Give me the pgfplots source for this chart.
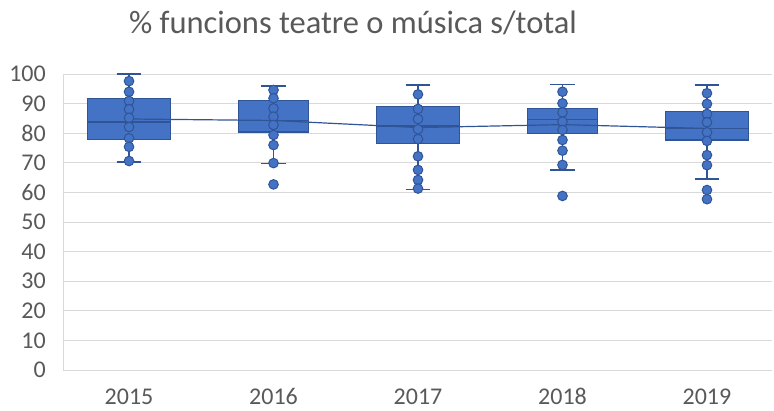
\documentclass[border=0pt]{standalone}
\usepackage{fontspec}
\setmainfont{Carlito}
\usepackage{pgfplots}
\pgfplotsset{compat=1.18}
\usepgfplotslibrary{statistics}

\definecolor{boxblue}{HTML}{4472C4}
\definecolor{boxedge}{HTML}{2F5597}
\definecolor{gridgray}{HTML}{D9D9D9}
\definecolor{textgray}{HTML}{595959}

\begin{document}
\begin{tikzpicture}
\useasboundingbox (-63pt,-40pt) rectangle (711pt,370pt);
\begin{axis}[
    scale only axis,
    width=709pt, height=296pt,
    xmin=-0.457, xmax=4.45,
    ymin=0, ymax=100,
    ytick={0,10,...,100},
    xtick={0,1,2,3,4},
    xticklabels={2015,2016,2017,2018,2019},
    major tick length=0pt,
    axis x line=bottom, axis y line=left,
    axis line style={draw=gridgray, line width=0.9pt, -},
    ymajorgrids,
    grid style={draw=gridgray, line width=0.9pt},
    tick label style={font=\fontsize{24}{28}\selectfont, text=textgray, inner sep=0pt},
    yticklabel style={anchor=east, xshift=-17pt},
    xticklabel style={anchor=base, yshift=-34pt},
    /pgf/number format/assume math mode=true,
    boxplot/draw direction=y,
    every boxplot/.style={fill=boxblue, draw=boxedge, line width=1.2pt, mark=none, solid},
    boxplot/every whisker/.style={line width=1.6pt},
    clip=false,
]
% boxes: lower whisker, Q1, median, Q3, upper whisker
\addplot+[boxplot prepared={lower whisker=70.3, lower quartile=78.0, median=83.8,
    upper quartile=91.6, upper whisker=100, draw position=0, box extend=0.574, whisker extend=0.17},
    fill=boxblue, draw=boxedge] coordinates {};
\addplot+[boxplot prepared={lower whisker=69.7, lower quartile=80.4, median=84.2,
    upper quartile=91.0, upper whisker=95.9, draw position=1, box extend=0.487, whisker extend=0.17},
    fill=boxblue, draw=boxedge] coordinates {};
\addplot+[boxplot prepared={lower whisker=61.0, lower quartile=76.5, median=82.4,
    upper quartile=89.0, upper whisker=96.3, draw position=2, box extend=0.577, whisker extend=0.17},
    fill=boxblue, draw=boxedge] coordinates {};
\addplot+[boxplot prepared={lower whisker=67.6, lower quartile=80.0, median=84.6,
    upper quartile=88.4, upper whisker=96.4, draw position=3, box extend=0.484, whisker extend=0.17},
    fill=boxblue, draw=boxedge] coordinates {};
\addplot+[boxplot prepared={lower whisker=64.6, lower quartile=77.7, median=81.6,
    upper quartile=87.3, upper whisker=96.3, draw position=4, box extend=0.574, whisker extend=0.17},
    fill=boxblue, draw=boxedge] coordinates {};
% mean line
\addplot[draw=boxedge, line width=1.2pt, no marks] coordinates {
    (0,84.8) (1,84.3) (2,81.9) (3,82.9) (4,81.6)
};
% points
\addplot[only marks, mark=*, mark size=4.8pt,
    mark options={fill=boxblue, draw=boxedge, line width=1pt}] coordinates {
    (0,97.6) (0,94.0) (0,90.9) (0,88.1) (0,85.2) (0,82.1) (0,78.3) (0,75.4) (0,70.6)
    (1,94.6) (1,91.8) (1,88.4) (1,85.6) (1,82.8) (1,79.4) (1,76.0) (1,69.9) (1,62.7)
    (2,93.1) (2,88.2) (2,84.8) (2,81.3) (2,78.0) (2,72.2) (2,67.6) (2,64.2) (2,61.3)
    (3,94.0) (3,90.1) (3,87.0) (3,83.9) (3,81.1) (3,77.7) (3,74.1) (3,69.3) (3,58.8)
    (4,93.5) (4,89.9) (4,86.5) (4,83.7) (4,80.3) (4,77.4) (4,72.6) (4,69.2) (4,60.8) (4,57.7)
};
\end{axis}
\node[anchor=base, font=\fontsize{32.5}{38}\selectfont, text=textgray] at (290pt,336pt)
    {\% funcions teatre o música s/total};
\end{tikzpicture}
\end{document}
